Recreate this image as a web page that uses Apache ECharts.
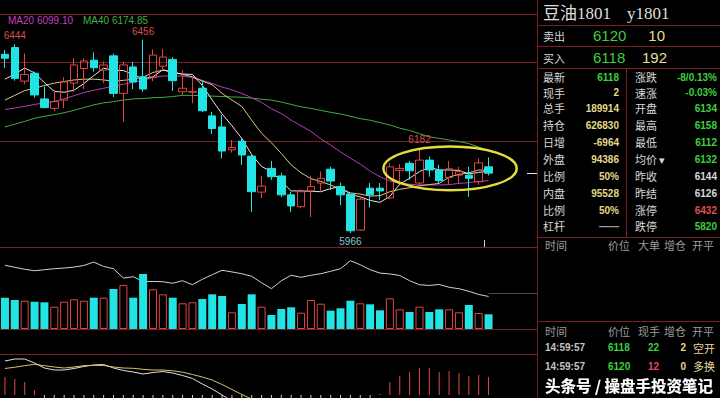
<!DOCTYPE html>
<html><head><meta charset="utf-8">
<script src="https://cdn.jsdelivr.net/npm/echarts@6/dist/echarts.min.js"></script>
<style>html,body{margin:0;padding:0;background:#000;}#c{width:720px;height:398px;}</style>
</head><body><div id="c"></div>
<script>
// ---------------- data ----------------
const categories = ['1','2','3','4','5','6','7','8','9','10','11','12','13','14','15','16','17','18','19','20','21','22','23','24','25','26','27','28','29','30','31','32','33','34','35','36','37','38','39','40','41','42','43','44','45','46','47','48','49','50'];
const opens  = [6419,6436,6351,6371,6306,6282,6303,6346,6383,6404,6379,6415,6320,6387,6362,6361,6389,6406,6324,6323,6333,6263,6235,6177,6199,6161,6070,6130,6111,6063,6033,6073,6093,6128,6084,6065,5974,6080,6080,6055,6125,6143,6093,6151,6126,6107,6113,6113,6096,6134];
const closes = [6409,6358,6368,6316,6284,6299,6349,6392,6402,6385,6392,6320,6392,6349,6331,6417,6412,6352,6333,6325,6276,6231,6174,6183,6164,6071,6085,6109,6063,6035,6071,6084,6105,6098,6063,5972,6052,6063,6073,6134,6130,6124,6151,6126,6099,6129,6122,6105,6144,6118];
const lows   = [6384,6352,6343,6309,6282,6275,6283,6324,6331,6375,6346,6311,6248,6331,6324,6351,6379,6326,6316,6295,6273,6217,6155,6170,6139,6020,6055,6101,6057,6020,6029,6007,6071,6075,6037,5966,5972,6031,6050,6052,6096,6101,6085,6109,6092,6088,6093,6058,6088,6112];
const highs  = [6430,6444,6421,6375,6337,6328,6361,6409,6409,6424,6401,6421,6400,6400,6456,6432,6432,6412,6379,6359,6353,6273,6265,6202,6206,6164,6111,6149,6119,6071,6077,6111,6122,6134,6094,6065,6057,6093,6093,6143,6141,6149,6182,6160,6139,6149,6134,6134,6155,6158];
const ma5  = [6356,6369,6384,6372,6347,6325,6323,6328,6345,6365,6384,6378,6378,6367,6357,6362,6380,6372,6369,6368,6340,6303,6268,6238,6206,6165,6135,6122,6098,6073,6073,6072,6071,6079,6084,6064,6058,6049,6044,6059,6090,6105,6122,6133,6126,6126,6125,6116,6120,6123];
const ma10 = [6303,6315,6327,6333,6340,6346,6350,6354,6356,6356,6354,6351,6353,6356,6361,6373,6379,6375,6368,6362,6351,6342,6320,6303,6287,6252,6219,6195,6168,6139,6119,6104,6097,6088,6078,6068,6065,6060,6061,6071,6077,6081,6086,6089,6092,6108,6115,6119,6126,6125];
const ma20 = [6279,6283,6287,6292,6296,6300,6306,6314,6322,6328,6333,6338,6343,6348,6353,6360,6364,6364,6364,6360,6353,6345,6336,6329,6320,6309,6297,6281,6269,6252,6238,6224,6205,6189,6172,6156,6141,6123,6109,6098,6093,6090,6088,6088,6088,6089,6092,6094,6097,6099];
const ma40 = [6235,6242,6249,6257,6262,6266,6271,6277,6284,6291,6296,6299,6303,6306,6307,6309,6310,6312,6315,6315,6314,6313,6312,6311,6310,6308,6305,6303,6298,6292,6286,6282,6277,6272,6268,6262,6256,6252,6246,6240,6232,6226,6218,6210,6206,6202,6198,6193,6184,6175];
const volumes = [407,377,368,355,347,290,355,386,368,407,407,520,572,407,715,516,451,407,334,347,390,451,429,217,325,451,290,182,260,282,212,377,329,238,269,368,334,321,243,399,256,221,290,221,256,256,217,312,208,191];
const openInterest = [673600,670600,667600,665400,666900,668400,669400,670900,673300,678400,671800,668400,654400,656400,649300,649300,648900,646600,650400,644400,652600,659400,666100,663600,660900,657100,647400,638400,650400,658600,655600,658600,660900,664600,668400,680400,674400,666900,661900,660600,658300,650400,644400,643300,644800,640600,638400,634600,629800,626830];
const dif = [34,36,36,32,27,25,25,26.5,28.5,30,30.5,27,24.5,23,21,22.5,23.5,22,19.5,16.5,11,6,0,-6,-12,-19,-25,-29,-33,-37,-39,-40,-40,-40,-41,-44,-44,-43,-40,-35,-31,-27,-22,-19,-18,-16,-15,-14,-13,-11];
const dea = [26.5,27.8,29.3,30.7,29.3,28,27,28,29.3,29.7,29.5,28,27,26.7,25.7,25,25,24.2,22.8,20.5,18,15,10.5,5.5,0.5,-4,-8,-12,-16,-20,-23,-26,-29,-31,-33,-35,-37,-38,-39,-39,-38,-36,-33,-31,-29,-27,-25,-23,-22,-20];
const macdHist = [18,16,13,5,-5,-7,-4,-3,-3,-3,-3,-4,-6,-8,-10,-6,-4,-4,-6,-7,-11,-13,-16,-19,-20,-19,-18,-12,-8,-6,-6,-4,-3,-4,-5,-7,-9,-6,1,13,19,23,27,27,23,24,22,19,20,18];
const priceGridLines = [6400, 6200];
const highMarks = [[1,6444],[14,6456],[42,6182]];
const lowMarks = [[35,5966]];
const maLegendTexts = ['MA20 6099.10', 'MA40 6174.85'];
const lastPrice = 6118;
const quoteTitle = ['豆油1801', 'y1801'];
const askRow = ['卖出', '6120', '10'];
const bidRow = ['买入', '6118', '192'];
const quoteRows = [
  ['最新','6118','涨跌','-8/0.13%'],
  ['现手','2','速涨','-0.03%'],
  ['总手','189914','开盘','6134'],
  ['持仓','626830','最高','6158'],
  ['日增','-6964','最低','6112'],
  ['外盘','94386','均价 ▾','6132'],
  ['比例','50%','昨收','6144'],
  ['内盘','95528','昨结','6126'],
  ['比例','50%','涨停','6432'],
  ['杠杆','——','跌停','5820']
];
const bigOrderHeader = ['时间','价位','大单','增仓','开平'];
const tickHeader = ['时间','价位','现手','增仓','开平'];
const tickRows = [
  ['14:59:57','6118','22','2','空开'],
  ['14:59:57','6120','12','0','多换']
];
const watermark = '头条号 / 操盘手投资笔记';

// ---------------- styles ----------------
const CYAN = '#22e4e4', RED = '#e24444', DIV = '#7a2020';
const GREEN = '#3fcf3f', YEL = '#e2da88', WHITE = '#d8d8d8', GREY = '#9c9c9c';
const leftValColors = [GREEN, YEL, YEL, YEL, YEL, YEL, YEL, YEL, YEL, GREY];
const rightValColors = [GREEN, GREEN, GREEN, GREEN, GREEN, GREEN, WHITE, WHITE, '#e05050', GREEN];
const tickColors = [['#c4c4c4', GREEN, GREEN, YEL, '#e6d6a0'], ['#c4c4c4', GREEN, '#e0485a', YEL, '#e6d6a0']];
const NUMF = "'Liberation Sans', Arial, sans-serif";
const CJKF = "'Noto Sans CJK SC', sans-serif";

const chart = echarts.init(document.getElementById('c'), null, {renderer: 'svg', width: 720, height: 398});
const gl = -1.5, gw = 495;

const candleData = opens.map((o, i) => [o, closes[i], lows[i], highs[i]]);
const volData = volumes.map((v, i) => {
  const up = closes[i] >= opens[i];
  return {value: v, itemStyle: up ? {color: '#000', borderColor: RED, borderWidth: 1} : {color: CYAN, borderColor: CYAN, borderWidth: 0}};
});
const histData = macdHist.map(v => ({value: v, itemStyle: {color: v >= 0 ? '#e04848' : '#cfcfcf'}}));
const lineS = (name, data, color, xi, yi) => ({name, type: 'line', data, xAxisIndex: xi, yAxisIndex: yi, symbol: 'none', smooth: false, silent: true, lineStyle: {color, width: 1}, z: 2});

chart.setOption({
  backgroundColor: '#000',
  animation: false,
  grid: [
    {left: gl, width: gw, top: 14, height: 233, show: false},
    {left: gl, width: gw, top: 247, height: 82, show: false},
    {left: gl, width: gw, top: 354, height: 44, show: false}
  ],
  xAxis: [0, 1, 2].map(g => ({type: 'category', gridIndex: g, data: categories, boundaryGap: true, show: false})),
  yAxis: [
    {gridIndex: 0, min: 5931, max: 6521, show: false},
    {gridIndex: 1, min: 0, max: 1066, show: false},
    {gridIndex: 1, min: 578000, max: 701000, show: false},
    {gridIndex: 2, min: -3, max: 41, show: false}
  ],
  series: [
    lineS('MA40', ma40, '#3eae3e', 0, 0),
    lineS('MA20', ma20, '#b83cb8', 0, 0),
    lineS('MA10', ma10, '#d8c884', 0, 0),
    lineS('MA5', ma5, '#e6e6e6', 0, 0),
    {
      name: 'K', type: 'candlestick', data: candleData, xAxisIndex: 0, yAxisIndex: 0, barWidth: 8, silent: true, z: 3,
      itemStyle: {color: 'rgba(0,0,0,0)', color0: CYAN, borderColor: RED, borderColor0: CYAN, borderWidth: 1},
      markPoint: {
        symbol: 'circle', symbolSize: 1, silent: true, itemStyle: {color: 'rgba(0,0,0,0)'},
        label: {show: true, fontSize: 10, fontFamily: NUMF, formatter: p => String(p.value)},
        data: highMarks.map(([i, v]) => ({coord: [categories[i], v], value: v, label: {position: 'top', distance: 3, color: '#d84c4c'}}))
          .concat(lowMarks.map(([i, v]) => ({coord: [categories[i], v], value: v, label: {position: 'bottom', distance: 3, color: '#86c4d4'}})))
      }
    },
    {name: 'VOL', type: 'bar', data: volData, xAxisIndex: 1, yAxisIndex: 1, barWidth: 8, silent: true, z: 3},
    lineS('OI', openInterest, '#d0d0d0', 1, 2),
    {name: 'MACD', type: 'bar', data: histData, xAxisIndex: 2, yAxisIndex: 3, barWidth: 1, silent: true, z: 3},
    lineS('DIF', dif, '#e0e0e0', 2, 3),
    lineS('DEA', dea, '#d8c466', 2, 3)
  ]
});

// ---------------- decorations (layout) ----------------
const el = [];
function L(x1, y1, x2, y2, color, w, z) { el.push({type: 'line', silent: true, z: z || 0, shape: {x1, y1, x2, y2}, style: {stroke: color, lineWidth: w || 1}}); }
function T(t, x, y, size, color, o) {
  o = o || {};
  el.push({type: 'text', silent: true, z: 50, x, y, style: Object.assign({text: t, fill: color, fontSize: size, fontFamily: o.family || NUMF, fontWeight: o.weight || 'normal', align: o.align || 'left', verticalAlign: 'middle'}, o.extra || {})});
}
const toX = i => chart.convertToPixel({xAxisIndex: 0}, categories[i]);
const toY = v => chart.convertToPixel({yAxisIndex: 0}, v);
const bw = toX(1) - toX(0);

// chart panel borders and grid lines
[14.5, 247.5, 329.5, 354.5].forEach(y => L(0, y, 537.5, y, DIV));
priceGridLines.forEach(v => { const y = Math.round(toY(v)) + 0.5; L(0, y, 537.5, y, DIV); });
L(537.5, 0, 537.5, 398, DIV);
// right panel lines
[25.5, 46.5, 68.5, 237.5, 321.5].forEach(y => L(538, y, 720, y, DIV));
L(626.5, 69, 626.5, 237, DIV);
// last price tick
const yl = Math.round(toY(lastPrice)) + 0.5;
L(527, yl, 537, yl, '#e0e0e0', 1, 5);
const yoi = Math.round(chart.convertToPixel({yAxisIndex: 2}, openInterest[openInterest.length - 1])) - 2.5;
L(toX(49), yoi, 537, yoi, '#4a4a4a', 1, 1);
const xt = Math.round((toX(48) + toX(49)) / 2) + 0.5;
L(xt, 240, xt, 247, '#d0d0d0', 1, 5);

// highlight ellipse
const ecx = toX(45) + 0.1 * bw, ecy = toY(6130);
el.push({type: 'ellipse', silent: true, z: 60, shape: {cx: ecx, cy: ecy, rx: 6.75 * bw, ry: (toY(6075) - toY(6186)) / 2}, style: {fill: 'none', stroke: '#e4dc3e', lineWidth: 2.5}});

// MA legend
T(maLegendTexts[0], 8, 20.5, 10, '#c040c0');
T(maLegendTexts[1], 83, 20.5, 10, '#40b040');

// right panel texts
T(quoteTitle[0], 543, 13, 17, '#dedede', {family: "'Liberation Serif', 'Noto Sans CJK SC', serif"});
T(quoteTitle[1], 627, 13, 17, '#dedede', {family: "'Liberation Serif', serif"});
T(askRow[0], 543, 35.5, 11, WHITE, {family: CJKF});
T(askRow[1], 593, 35.5, 15, GREEN);
T(askRow[2], 665, 35.5, 15, '#e6de90', {align: 'right'});
T(bidRow[0], 543, 57.5, 11, WHITE, {family: CJKF});
T(bidRow[1], 593, 57.5, 15, GREEN);
T(bidRow[2], 667, 57.5, 15, '#e6de90', {align: 'right'});
const rowY = [77, 92.5, 108, 125, 142, 159, 176, 193, 210, 226];
quoteRows.forEach((r, k) => {
  const y = rowY[k];
  T(r[0], 543, y, 11, WHITE, {family: CJKF});
  T(r[1], 619, y, 10, leftValColors[k], {align: 'right', weight: 'bold'});
  T(r[2], 635, y, 11, WHITE, {family: CJKF});
  T(r[3], 717, y, 10, rightValColors[k], {align: 'right', weight: 'bold'});
});
const colX = [545, 608, 638, 664, 692];
bigOrderHeader.forEach((t, k) => T(t, colX[k], 245, 11, GREY, {family: CJKF}));
tickHeader.forEach((t, k) => T(t, colX[k], 331, 11, GREY, {family: CJKF}));
const tickRowY = [347.5, 366];
tickRows.forEach((r, k) => {
  const y = tickRowY[k], c = tickColors[k];
  T(r[0], 545, y, 10, c[0], {weight: 'bold'});
  T(r[1], 608, y, 10, c[1], {weight: 'bold'});
  T(r[2], 659, y, 10, c[2], {weight: 'bold', align: 'right'});
  T(r[3], 686, y, 10, c[3], {weight: 'bold', align: 'right'});
  T(r[4], 693, y, 11, c[4], {family: CJKF});
});
T(watermark, 545, 385, 15.5, '#ffffff', {family: CJKF, weight: 'bold', extra: {textShadowColor: '#000', textShadowBlur: 3, stroke: '#222', lineWidth: 0}});

chart.setOption({graphic: {elements: el}});
</script></body></html>
